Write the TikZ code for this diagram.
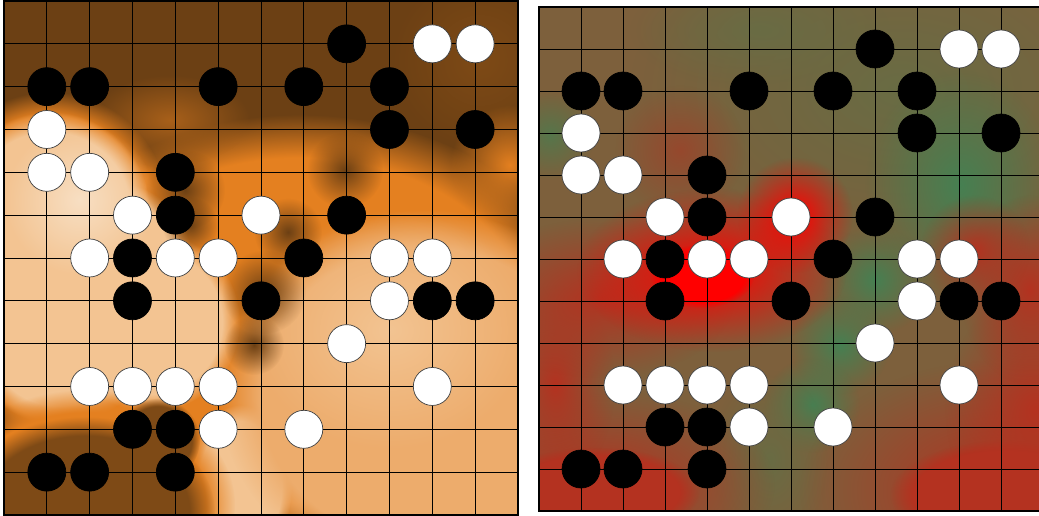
\documentclass[tikz,border=0pt]{standalone}
\usepackage{tikz}
\usetikzlibrary{fadings}

% heat map colours
\definecolor{copperdark}{RGB}{108,64,20}
\definecolor{copperorange}{RGB}{228,128,32}
\definecolor{coppertan}{RGB}{237,172,108}
\definecolor{copperlight}{RGB}{243,196,146}
\definecolor{diverbase}{RGB}{125,96,60}
\definecolor{diverolive}{RGB}{105,108,68}
\definecolor{divergreen}{RGB}{70,128,82}
\definecolor{diverrust}{RGB}{150,72,45}
\definecolor{diverbrick}{RGB}{180,50,32}
\definecolor{diverred}{RGB}{255,0,0}

\tikzfading[name=softblob, inner color=transparent!0, outer color=transparent!100]

\tikzset{
  gridline/.style={line width=0.9pt, black},
  frameline/.style={line width=1.3pt, black},
  stone/.style={line width=0.7pt},
  blackstone/.style={stone, fill=black, draw=black},
  whitestone/.style={stone, fill=white, draw=black!75},
  haze/.style={path fading=softblob},
  patch/.style={path fading=circle with fuzzy edge 20 percent},
}

% stone positions (column/row, 1..11)
\newcommand\blackstones{8/1, 1/2, 2/2, 5/2, 7/2, 9/2, 9/3, 11/3, 4/4, 4/5, 8/5,
  3/6, 7/6, 3/7, 6/7, 10/7, 11/7, 3/10, 4/10, 1/11, 2/11, 4/11}
\newcommand\whitestones{10/1, 11/1, 1/3, 1/4, 2/4, 3/5, 6/5, 2/6, 4/6, 5/6, 9/6,
  10/6, 9/7, 8/8, 2/9, 3/9, 4/9, 5/9, 10/9, 5/10, 7/10}

\newcommand\drawboard{%
  \foreach \k in {0,...,12} {
    \draw[gridline] (\k,0) -- (\k,12);
    \draw[gridline] (0,\k) -- (12,\k);
  }
  \foreach \c/\r in \blackstones
    \draw[blackstone] (\c,\r) circle (19pt);
  \foreach \c/\r in \whitestones
    \draw[whitestone] (\c,\r) circle (19pt);
}

\begin{document}
\begin{tikzpicture}[x=1pt, y=-1pt]
\useasboundingbox[fill=white] (0,0) rectangle (1039,516);

% --- Left board: copper heat map ---
\begin{scope}
  \clip (4,1) rectangle (518,515);
  \fill[copperdark] (4,1) rectangle (518,515);
  \fill[copperdark!85!copperorange, haze] (480,60) circle (90);
  % orange middle
  \fill[copperorange, patch] (300,330) ellipse (290 and 215);
  \fill[copperdark!50!copperorange, haze] (170,120) ellipse (80 and 45);
  % light region on the left
  \foreach \x/\y/\r in {50/210/118, 60/330/112, 150/320/110, 118/255/95}
    \fill[copperorange, patch] (\x,\y) circle (\r);
  \foreach \x/\y/\r in {50/212/100, 60/330/95, 150/322/90, 112/262/80}
    \fill[copperlight, patch] (\x,\y) circle (\r);
  \fill[copperlight!55!white, haze] (80,200) circle (75);
  % light region below the white stones
  \fill[copperlight, patch] (240,485) ellipse (52 and 80);
  % lower right
  \fill[coppertan, patch] (425,395) ellipse (205 and 185);
  \fill[copperlight, haze] (390,330) ellipse (140 and 120);
  \fill[copperorange, haze] (510,165) circle (60);
  % dark shadows near the black stones
  \fill[copperdark, haze] (185,190) circle (40);
  \fill[copperdark, haze] (190,225) circle (28);
  \fill[copperdark, haze] (345,170) circle (38);
  \fill[copperdark, haze] (288,232) circle (34);
  \fill[copperdark, haze] (264,292) circle (42);
  \fill[copperdark, haze] (254,345) circle (30);
  % dark bottom left
  \fill[copperorange, patch] (85,505) ellipse (150 and 115);
  \fill[copperdark!85!copperorange, patch] (85,512) ellipse (130 and 95);
  \fill[copperdark!85!copperorange, patch] (158,440) circle (42);
\end{scope}

\begin{scope}[shift={(4,1)}, x=42.83pt, y=-42.83pt]
  \drawboard
  \draw[frameline] (0,0) rectangle (12,12);
\end{scope}

% --- Right board: red/green heat map ---
\begin{scope}
  \clip (539,7) rectangle (1039,511);
  \fill[diverbase] (539,7) rectangle (1039,511);
  \fill[diverolive, haze] (900,90) ellipse (270 and 175);
  \fill[diverolive, haze] (760,30) ellipse (130 and 60);
  \fill[divergreen, haze] (960,185) ellipse (95 and 115);
  \fill[divergreen, haze] (875,280) circle (55);
  \fill[divergreen, haze] (840,345) circle (50);
  \fill[divergreen, haze] (812,405) circle (48);
  \fill[diverolive, haze] (770,460) ellipse (60 and 90);
  \fill[divergreen!70!diverbase, haze] (550,135) circle (45);
  % reddish areas
  \fill[diverrust, haze] (680,150) circle (65);
  \fill[diverbrick, haze] (600,485) ellipse (175 and 95);
  \fill[diverbrick, patch] (595,492) ellipse (105 and 45);
  \fill[diverbrick, haze] (555,385) ellipse (60 and 100);
  \fill[diverbrick, haze] (600,298) ellipse (135 and 80);
  \fill[diverbrick, haze] (1000,490) ellipse (200 and 130);
  \fill[diverbrick, patch] (1005,495) ellipse (115 and 55);
  \fill[diverbrick, haze] (1035,410) ellipse (90 and 120);
  \fill[diverbrick, haze] (1030,290) ellipse (70 and 95);
  \fill[diverbrick, haze] (975,250) circle (55);
  % bright red spot
  \fill[diverred, haze] (712,270) ellipse (135 and 82);
  \fill[diverred, patch] (702,276) ellipse (52 and 32);
  \fill[diverred, haze] (795,215) circle (58);
\end{scope}

\begin{scope}[shift={(539,7)}, x=42pt, y=-42pt]
  \drawboard
  \draw[frameline] (0,0) rectangle (12,12);
\end{scope}

\end{tikzpicture}
\end{document}
